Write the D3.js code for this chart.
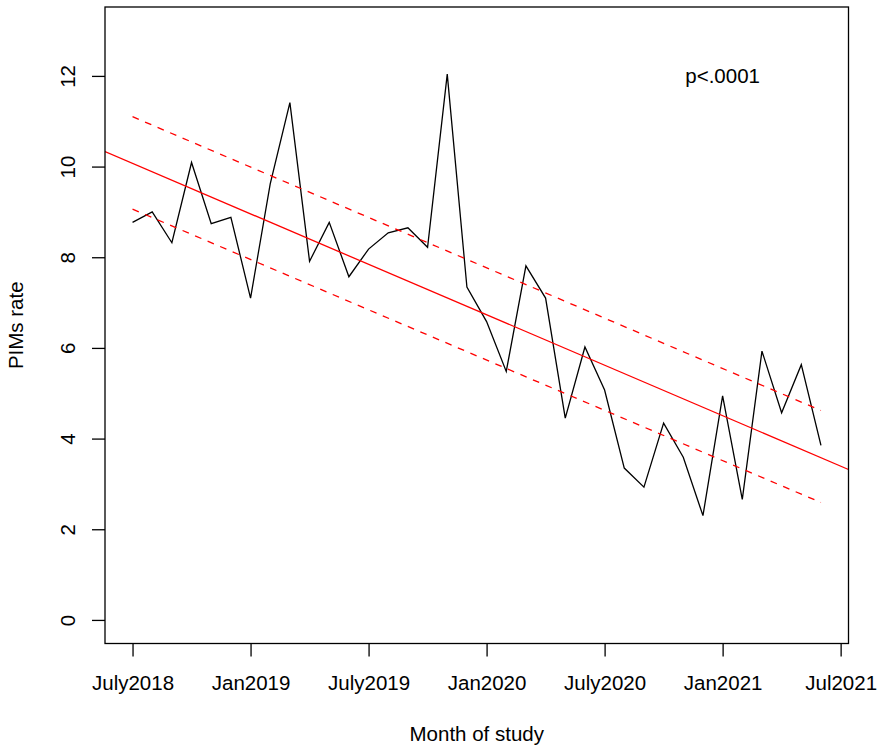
<!DOCTYPE html>
<html>
<head>
<meta charset="utf-8">
<script src="https://cdn.jsdelivr.net/npm/d3@7"></script>
<style>
  body { margin: 0; background: #fff; }
  svg text { font-family: "Liberation Sans", Arial, sans-serif; font-size: 20.5px; fill: #000; }
</style>
</head>
<body>
<svg id="chart" width="879" height="751"></svg>
<script>
// monthly PIMs rate, Jul 2018 .. Jun 2021 (month index 1..36)
const rates = [
  8.77, 9.00, 8.32, 10.09, 8.74, 8.88, 7.10, 9.62, 11.41, 7.91,
  8.77, 7.57, 8.18, 8.54, 8.65, 8.22, 12.04, 7.34, 6.58, 5.48,
  7.81, 7.10, 4.45, 6.02, 5.07, 3.35, 2.93, 4.34, 3.59, 2.30,
  4.94, 2.66, 5.93, 4.57, 5.63, 3.85
]
const months = rates.map((d, i) => i + 1)

// x axis ticks
const xTickValues = [1, 7, 13, 19, 25, 31, 37]
const xTickLabels = ['July2018', 'Jan2019', 'July2019', 'Jan2020', 'July2020', 'Jan2021', 'Jul2021']
const yTickValues = [0, 2, 4, 6, 8, 10, 12]

// linear trend and its confidence band (values at first and last month)
const fitIntercept = 10.256
const fitSlope = -0.1855
const bandMonths = [1, 36]
const bandUpper = [11.10, 4.62]
const bandLower = [9.06, 2.59]

const pLabel = { month: 31, value: 12, text: 'p<.0001' }

const svg = d3.select('#chart')
const box = { left: 105, right: 848.5, top: 7, bottom: 643.5 }
const tickSize = 13

// R style 4% padding around data range
const xPad = 0.04 * (d3.max(months) - d3.min(months))
const x = d3.scaleLinear()
  .domain([d3.min(months) - xPad, d3.max(months) + xPad])
  .range([box.left, box.right])
const y = d3.scaleLinear()
  .domain([-0.04 * 13, 13 + 0.04 * 13])
  .range([box.bottom, box.top])

const plot = svg.append('g')

// clip for the abline
svg.append('defs').append('clipPath').attr('id', 'clip')
  .append('rect')
  .attr('x', box.left).attr('y', box.top)
  .attr('width', box.right - box.left).attr('height', box.bottom - box.top)

// data line
const line = d3.line().x((d) => x(d[0])).y((d) => y(d[1]))
plot.append('path')
  .datum(months.map((m, i) => [m, rates[i]]))
  .attr('d', line)
  .attr('fill', 'none')
  .attr('stroke', '#000')
  .attr('stroke-width', 1.3)

// regression line over full plot width
const xd = x.domain()
plot.append('path')
  .datum(xd.map((m) => [m, fitIntercept + fitSlope * m]))
  .attr('d', line)
  .attr('clip-path', 'url(#clip)')
  .attr('fill', 'none')
  .attr('stroke', '#ff0000')
  .attr('stroke-width', 1.3)

// confidence band
;[bandUpper, bandLower].forEach((band) => {
  plot.append('path')
    .datum(bandMonths.map((m, i) => [m, band[i]]))
    .attr('d', line)
    .attr('fill', 'none')
    .attr('stroke', '#ff0000')
    .attr('stroke-width', 1.3)
    .attr('stroke-dasharray', '6.8,6.8')
})

// box
svg.append('rect')
  .attr('x', box.left).attr('y', box.top)
  .attr('width', box.right - box.left).attr('height', box.bottom - box.top)
  .attr('fill', 'none')
  .attr('stroke', '#000')
  .attr('stroke-width', 1.3)

// x axis
const xAxis = svg.append('g')
  .attr('transform', `translate(0, ${box.bottom})`)
  .call(d3.axisBottom(x).tickValues(xTickValues).tickSize(tickSize).tickFormat((d, i) => xTickLabels[i]))
xAxis.select('.domain').remove()
xAxis.selectAll('line').attr('stroke-width', 1.3)
xAxis.selectAll('text')
  .attr('y', 46.5)
  .attr('dy', null)
  .attr('font-family', null)
  .attr('font-size', null)

// y axis
const yAxis = svg.append('g')
  .attr('transform', `translate(${box.left}, 0)`)
  .call(d3.axisLeft(y).tickValues(yTickValues).tickSize(tickSize))
yAxis.select('.domain').remove()
yAxis.selectAll('line').attr('stroke-width', 1.3)
yAxis.selectAll('text')
  .attr('x', null)
  .attr('dy', null)
  .attr('text-anchor', 'middle')
  .attr('transform', 'translate(-30, 0) rotate(-90)')
yAxis.attr('font-family', null).attr('font-size', null)
xAxis.attr('font-family', null).attr('font-size', null)

// p value annotation
svg.append('text')
  .attr('x', x(pLabel.month))
  .attr('y', y(pLabel.value))
  .attr('dy', '0.36em')
  .attr('text-anchor', 'middle')
  .text(pLabel.text)

// axis titles
svg.append('text')
  .attr('x', (box.left + box.right) / 2)
  .attr('y', 741)
  .attr('text-anchor', 'middle')
  .text('Month of study')

svg.append('text')
  .attr('transform', `translate(22.7, ${(box.top + box.bottom) / 2}) rotate(-90)`)
  .attr('text-anchor', 'middle')
  .text('PIMs rate')
</script>
</body>
</html>
